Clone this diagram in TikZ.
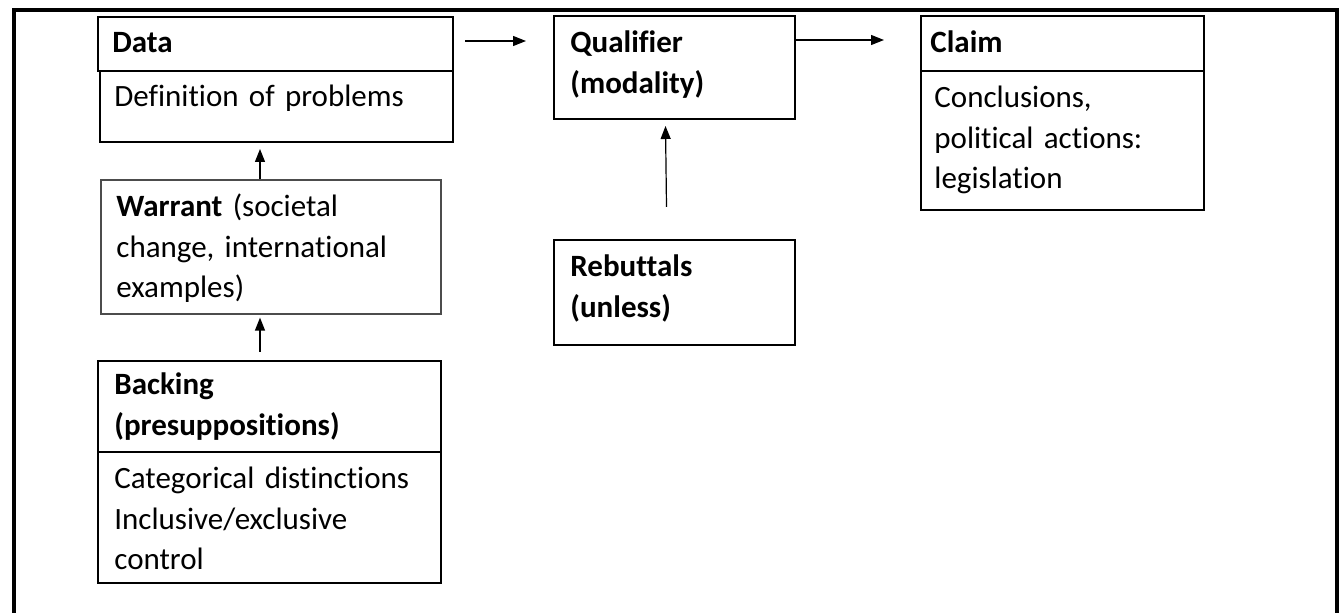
\documentclass[tikz,border=0pt]{standalone}
\usepackage{fontspec}
\setmainfont{Carlito}[RawFeature=-liga,RawFeature=-clig,RawFeature=-dlig,RawFeature=-hlig,RawFeature=-calt,RawFeature=-rlig]
\usetikzlibrary{arrows.meta,calc,fit}
\begin{document}
\begin{tikzpicture}[x=0.5pt,y=-0.5pt,
  box/.style={draw=black,line width=1pt,inner sep=0pt,fit={#1}},
  thinbox/.style={draw=black!70,line width=0.6pt,inner sep=0pt,fit={#1}},
  txt/.style={anchor=base west,inner sep=0pt,text width=165pt,align=left,
    font=\fontsize{15.5pt}{20.2pt}\selectfont},
  arr/.style={line width=0.6pt,-{Triangle[length=6.5pt,width=5pt]}}]
\useasboundingbox (0,0) rectangle (1343,613);
% outer frame (open at the bottom)
\draw[line width=2pt,line join=miter] (13.5,613) -- (13.5,10) -- (1337,10) -- (1337,613);
% boxes
\node[box={(98,17)(453,71)}] (dataH) {};
\node[box={(100,71)(453,142)}] (dataB) {};
\node[box={(554,16)(795,119)}] (qual) {};
\node[box={(921,16)(1204,71)}] (claimH) {};
\node[box={(921,71)(1204,210)}] (claimB) {};
\node[thinbox={(101,180)(441,314)}] (war) {};
\node[box={(554,240)(795,345)}] (reb) {};
\node[box={(98,361)(441,452)}] (backH) {};
\node[box={(98,452)(441,583)}] (backB) {};
% texts
\node[txt] (tdataH) at (112,53) {\textbf{Data}};
\node[txt] (tdataB) at (114,107) {Definition of problems};
\node[txt] (tqual) at (570,53) {\textbf{Qualifier}\\\textbf{(modality)}};
\node[txt] (tclaimH) at (930,53) {\textbf{Claim}};
\node[txt] (tclaimB) at (934,108) {Conclusions,\\political actions:\\legislation};
\node[txt] (twar) at (116,217) {\textbf{Warrant} (societal\\change, international\\examples)};
\node[txt] (treb) at (570,277) {\textbf{Rebuttals}\\\textbf{(unless)}};
\node[txt] (tbackH) at (114,395) {\textbf{Backing}\\\textbf{(presuppositions)}};
\node[txt] (tbackB) at (114,489) {Categorical distinctions\\Inclusive/exclusive\\control};
% connectors
\draw[arr] ($(dataH.east)+(11,-3)$) -- ($(dataH.east -| qual.west)+(-27,-3)$);
\draw[arr] ($(qual.north east)+(0,25)$) -- ($(claimH.west |- qual.north east)+(-36,25)$);
\draw[arr] ($(reb.north)+(-8,-32)$) -- ($(qual.south)+(-9,6)$);
\draw[arr] ($(war.north)+(-11,0)$) -- ($(war.north |- dataB.south)+(-11,6)$);
\draw[arr] ($(war.south |- backH.north)+(-11,-8)$) -- ($(war.south)+(-11,3)$);
\end{tikzpicture}
\end{document}
